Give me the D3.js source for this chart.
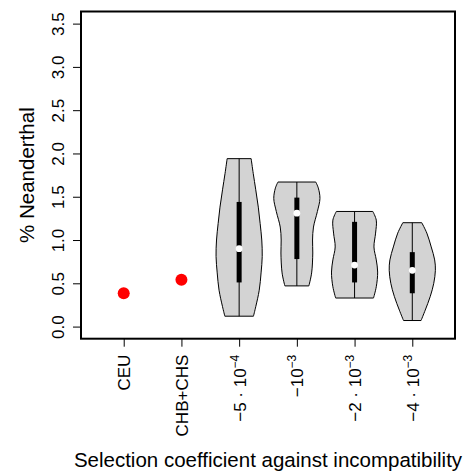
<!DOCTYPE html>
<html>
<head>
<meta charset="utf-8">
<script src="https://cdn.jsdelivr.net/npm/d3@7"></script>
<style>
  html, body { margin: 0; padding: 0; background: #fff; }
  svg { display: block; font-family: "Liberation Sans", Arial, sans-serif; }
</style>
</head>
<body>
<svg id="chart" width="470" height="474"></svg>
<script>
// Categories along the x axis (plain text ones and coefficient labels as base / exponent)
const categories = ["CEU", "CHB+CHS", "s1", "s2", "s3", "s4"];
const tickLabels = [
  { base: "CEU", sup: null },
  { base: "CHB+CHS", sup: null },
  { base: "\u22125 \u00B7 10", sup: "\u22124" },
  { base: "\u221210", sup: "\u22123" },
  { base: "\u22122 \u00B7 10", sup: "\u22123" },
  { base: "\u22124 \u00B7 10", sup: "\u22123" }
];

// Observed populations: single values
const pointCategories = ["CEU", "CHB+CHS"];
const pointValues = [0.385, 0.54];

// Simulated distributions: quartiles and medians
const violinCategories = ["s1", "s2", "s3", "s4"];
const q1Values = [0.51, 0.78, 0.51, 0.385];
const medianValues = [0.90, 1.31, 0.71, 0.65];
const q3Values = [1.44, 1.49, 1.21, 0.86];

// Density profiles: [value, relative density] from top (max) to bottom (min)
const densityS1 = [[1.94,0.52],[1.77,0.61],[1.58,0.72],[1.38,0.83],[1.19,0.91],[1.00,0.98],[0.81,1.0],[0.62,0.95],[0.42,0.87],[0.23,0.72],[0.12,0.62]];
const densityS2 = [[1.67,0.82],[1.60,0.93],[1.48,1.0],[1.33,0.89],[1.15,0.72],[1.00,0.68],[0.85,0.69],[0.62,0.64],[0.47,0.52]];
const densityS3 = [[1.33,0.79],[1.23,0.94],[1.08,0.91],[0.92,0.84],[0.77,0.94],[0.63,1.0],[0.46,0.94],[0.33,0.82]];
const densityS4 = [[1.20,0.41],[1.08,0.63],[0.92,0.82],[0.77,0.97],[0.65,1.0],[0.50,0.93],[0.35,0.78],[0.19,0.56],[0.07,0.38]];
const densities = [densityS1, densityS2, densityS3, densityS4];

const yTicks = [0, 0.5, 1, 1.5, 2, 2.5, 3, 3.5];

// Layout
const plot = { left: 81, right: 455, top: 11.5, bottom: 338.7 };
const svg = d3.select("#chart");

const x = d3.scalePoint().domain(categories).range([plot.left, plot.right]).padding(0.74);
const y = d3.scaleLinear().domain([-0.14, 3.64]).range([plot.bottom, plot.top]);
const halfWidth = d3.scaleLinear().domain([0, 1]).range([0, 0.4 * x.step()]);

// Violins
const area = d3.area()
  .y(d => y(d[0]))
  .curve(d3.curveCatmullRom.alpha(0.5));

violinCategories.forEach((cat, i) => {
  const cx = x(cat);
  const dens = densities[i];
  const g = svg.append("g");
  g.append("path")
    .datum(dens)
    .attr("d", area.x0(d => cx - halfWidth(d[1])).x1(d => cx + halfWidth(d[1])))
    .attr("fill", "#d3d3d3")
    .attr("stroke", "#000")
    .attr("stroke-width", 1);
  // whisker across full range
  g.append("line")
    .attr("x1", cx).attr("x2", cx)
    .attr("y1", y(dens[0][0])).attr("y2", y(dens[dens.length - 1][0]))
    .attr("stroke", "#000").attr("stroke-width", 1);
  // interquartile bar
  g.append("line")
    .attr("x1", cx).attr("x2", cx)
    .attr("y1", y(q1Values[i])).attr("y2", y(q3Values[i]))
    .attr("stroke", "#000").attr("stroke-width", 5);
  // median
  g.append("circle")
    .attr("cx", cx).attr("cy", y(medianValues[i]))
    .attr("r", 3.4).attr("fill", "#fff");
});

// Observed points
svg.append("g").selectAll("circle")
  .data(pointValues)
  .join("circle")
  .attr("cx", (d, i) => x(pointCategories[i]))
  .attr("cy", d => y(d))
  .attr("r", 6)
  .attr("fill", "#ff0000");

// Frame
svg.append("rect")
  .attr("x", plot.left).attr("y", plot.top)
  .attr("width", plot.right - plot.left).attr("height", plot.bottom - plot.top)
  .attr("fill", "none").attr("stroke", "#000").attr("stroke-width", 2);

// Y axis
const yAxis = svg.append("g").attr("transform", `translate(${plot.left},0)`)
  .call(d3.axisLeft(y).tickValues(yTicks).tickSize(8).tickFormat(d3.format(".1f")));
yAxis.select(".domain").remove();
yAxis.selectAll(".tick line").attr("stroke", "#000");
yAxis.selectAll(".tick text")
  .attr("font-size", 17)
  .attr("fill", "#000")
  .attr("text-anchor", "middle")
  .attr("x", null).attr("dy", null)
  .attr("transform", "translate(-17.5,0) rotate(-90)");

// X axis
const xAxis = svg.append("g").attr("transform", `translate(0,${plot.bottom})`)
  .call(d3.axisBottom(x).tickSize(8).tickFormat(""));
xAxis.select(".domain").remove();
xAxis.selectAll(".tick line").attr("stroke", "#000");
xAxis.selectAll(".tick text").remove();
xAxis.selectAll(".tick").each(function(d, i) {
  const lab = tickLabels[i];
  const t = d3.select(this).append("text")
    .attr("font-size", 17)
    .attr("fill", "#000")
    .attr("text-anchor", "end")
    .attr("transform", "translate(6,16) rotate(-90)");
  t.append("tspan").text(lab.base);
  if (lab.sup) {
    t.append("tspan").attr("font-size", 12).attr("dy", -7).text(lab.sup);
  }
});

// Axis titles
svg.append("text")
  .attr("transform", `translate(33.5,${(plot.top + plot.bottom) / 2}) rotate(-90)`)
  .attr("text-anchor", "middle")
  .attr("font-size", 20.5)
  .text("% Neanderthal");

svg.append("text")
  .attr("x", (plot.left + plot.right) / 2)
  .attr("y", 467)
  .attr("text-anchor", "middle")
  .attr("font-size", 20.5)
  .text("Selection coefficient against incompatibility");
</script>
</body>
</html>
